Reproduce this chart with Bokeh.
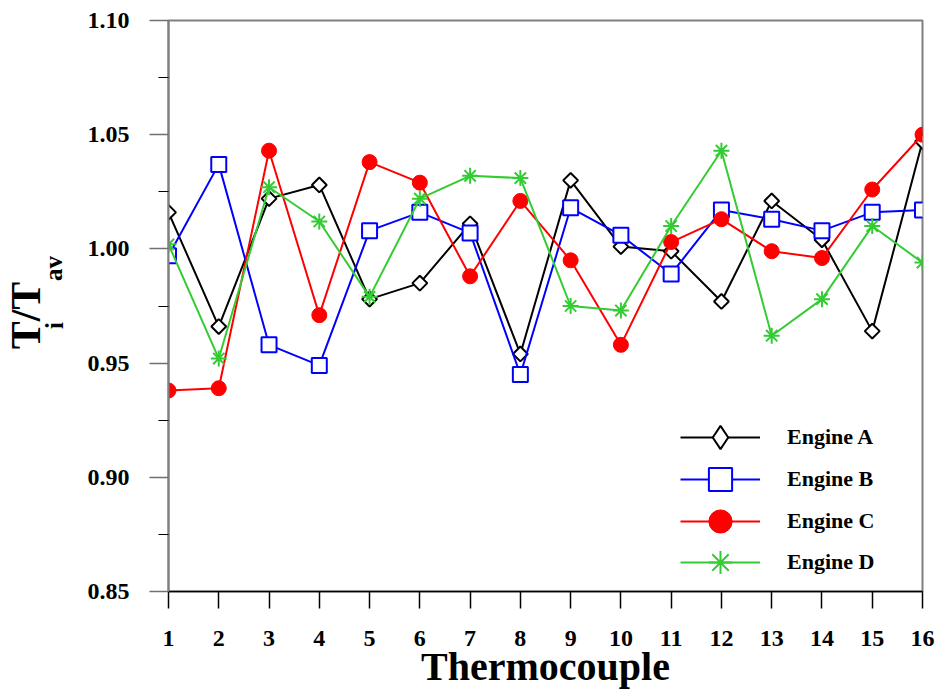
import math
from bokeh.plotting import figure
from bokeh.layouts import row
from bokeh.models import (Range1d, FixedTicker, PrintfTickFormatter, Legend, LegendItem, Label)
from bokeh.embed import file_html
from bokeh.resources import INLINE

thermocouple = list(range(1, 17))
engine_a = [1.016, 0.966, 1.022, 1.028, 0.978, 0.985, 1.011, 0.954, 1.030, 1.001, 0.999, 0.977, 1.021, 1.004, 0.964, 1.047]
engine_b = [0.997, 1.037, 0.958, 0.949, 1.008, 1.016, 1.007, 0.945, 1.018, 1.006, 0.989, 1.017, 1.013, 1.008, 1.016, 1.017]
engine_c = [0.938, 0.939, 1.043, 0.971, 1.038, 1.029, 0.988, 1.021, 0.995, 0.958, 1.003, 1.013, 0.999, 0.996, 1.026, 1.050]
engine_d = [1.002, 0.952, 1.027, 1.012, 0.979, 1.022, 1.032, 1.031, 0.975, 0.973, 1.010, 1.043, 0.962, 0.978, 1.010, 0.994]
y_ticks = [0.85, 0.90, 0.95, 1.00, 1.05, 1.10]
y_minor = [0.875, 0.925, 0.975, 1.025, 1.075]

FONT = "Liberation Serif"

# ---- narrow figure holding the rotated y-axis title (frame aligned with main frame) ----
lf = figure(width=80, height=691, output_backend="svg", toolbar_location=None,
            x_axis_type=None, y_axis_type=None, min_border=0,
            min_border_top=20, min_border_bottom=100,
            x_range=Range1d(0, 1), y_range=Range1d(0, 1))
lf.outline_line_color = None
lf.xgrid.visible = False
lf.ygrid.visible = False

def ylab(txt, x, y, size):
    lf.add_layout(Label(x=x, y=y, x_units="screen", y_units="screen", text=txt,
                        angle=math.pi / 2, text_font=FONT, text_font_style="bold",
                        text_font_size=size, text_align="center", text_baseline="middle",
                        text_color="black"))

ylab("T/T", 25, 276, "42px")
ylab("i", 54, 266, "25px")
ylab("av", 53, 323, "25px")

# ---- main figure ----
p = figure(width=862, height=691, output_backend="svg", toolbar_location=None,
           x_range=Range1d(1, 16), y_range=Range1d(0.85, 1.10),
           min_border_left=88, min_border_right=20, min_border_top=20, min_border_bottom=100)
p.background_fill_color = "white"
p.border_fill_color = "white"
p.xgrid.visible = False
p.ygrid.visible = False
p.outline_line_color = "#808080"
p.outline_line_width = 2

p.xaxis.ticker = FixedTicker(ticks=thermocouple)
p.yaxis.ticker = FixedTicker(ticks=y_ticks, minor_ticks=y_minor)
p.yaxis.formatter = PrintfTickFormatter(format="%.2f")
for ax in (p.xaxis[0], p.yaxis[0]):
    ax.major_label_text_font = FONT
    ax.major_label_text_font_style = "bold"
    ax.major_label_text_font_size = "24px"
    ax.major_label_text_color = "black"
    ax.major_tick_in = 0
    ax.minor_tick_in = 0

p.xaxis.axis_line_color = "black"
p.xaxis.axis_line_width = 1.5
p.xaxis.major_tick_line_color = "black"
p.xaxis.major_tick_line_width = 1.5
p.xaxis.major_tick_out = 17
p.xaxis.minor_tick_line_color = None
p.xaxis.major_label_standoff = 22
p.xaxis.axis_label = "Thermocouple"
p.xaxis.axis_label_text_font = FONT
p.xaxis.axis_label_text_font_style = "bold"
p.xaxis.axis_label_text_font_size = "40px"
p.xaxis.axis_label_text_color = "black"
p.xaxis.axis_label_standoff = -5

p.yaxis.axis_line_color = "#808080"
p.yaxis.axis_line_width = 2
p.yaxis.major_tick_line_color = "#707070"
p.yaxis.major_tick_line_width = 1.5
p.yaxis.major_tick_out = 19
p.yaxis.major_label_standoff = 20
p.yaxis.minor_tick_line_color = "black"
p.yaxis.minor_tick_line_width = 1.2
p.yaxis.minor_tick_out = 10

series = [
    ("Engine A", engine_a, "black", "square", 10.5, math.pi / 4),
    ("Engine B", engine_b, "#0000ff", "square", 15, 0),
    ("Engine C", engine_c, "#ff0000", "circle", 15, 0),
    ("Engine D", engine_d, "#33cc33", "asterisk", 16, 0),
]
legend_rows = [125, 83, 41, 0]

for (name, vals, color, marker, size, ang), vy in zip(series, legend_rows):
    lr = p.line(thermocouple, vals, line_color=color, line_width=2)
    if marker == "circle":
        sr = p.scatter(thermocouple, vals, marker=marker, size=size,
                       fill_color=color, line_color=color, line_width=1)
        key = sr
    elif marker == "asterisk":
        sr = p.scatter(thermocouple, vals, marker=marker, size=size,
                       line_color=color, line_width=2)
        key = sr
    else:
        sr = p.scatter(thermocouple, vals, marker=marker, size=size, angle=ang,
                       fill_color="white", line_color=color, line_width=2)
        key = sr
        if ang:
            # legend swatch only: zero-size diamond (legend swatches are drawn unrotated
            # and sized from the legend box, so this draws nothing in the plot)
            key = p.scatter(thermocouple, vals, marker="diamond", size=0, fill_color="white",
                            line_color=color, line_width=2)
    lg = Legend(items=[LegendItem(label=name, renderers=[lr, key])], location=(512, vy),
                glyph_width=80, glyph_height=58, spacing=0, label_standoff=27,
                padding=0, margin=0, label_text_font=FONT, label_text_font_style="bold",
                label_text_font_size="22px", label_text_color="black", label_height=20,
                border_line_alpha=0, background_fill_alpha=0)
    p.add_layout(lg)

layout = row(lf, p, spacing=0)
open("out.html", "w").write(file_html(layout, INLINE))
